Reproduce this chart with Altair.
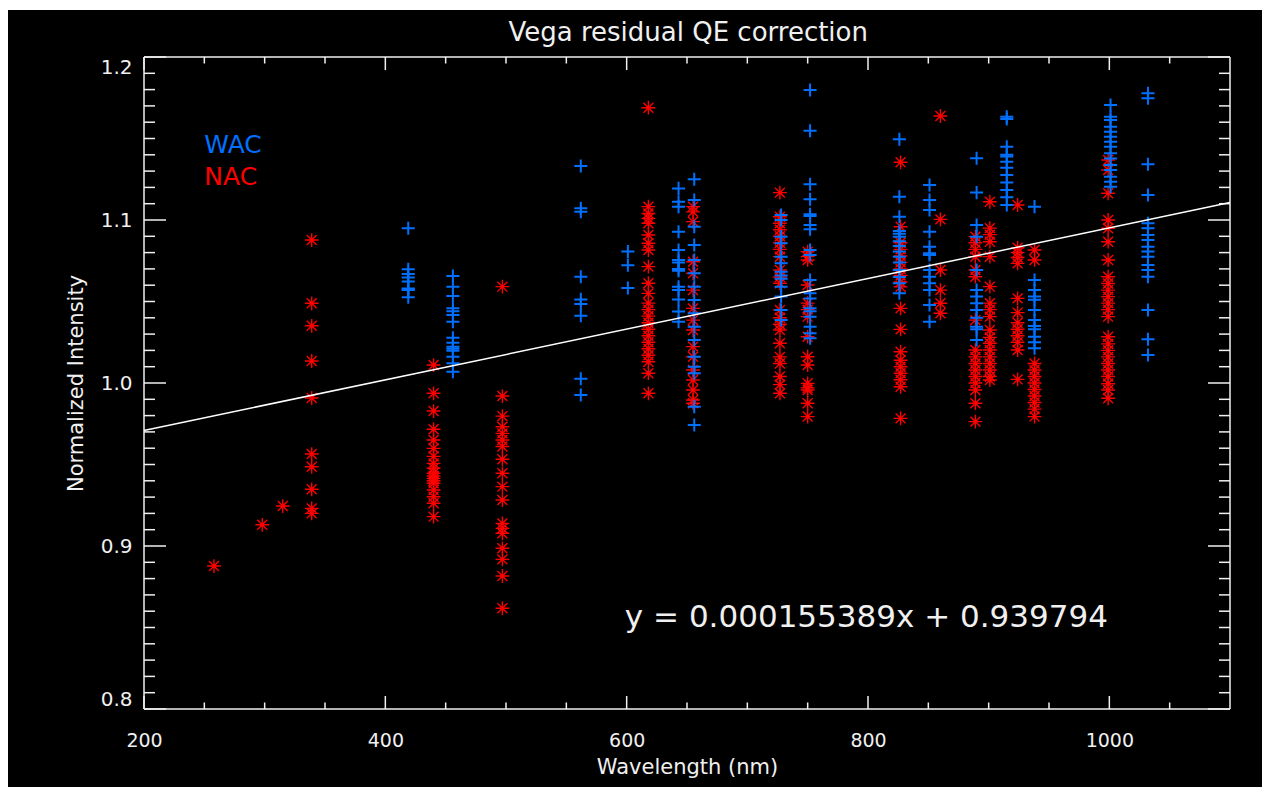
import altair as alt
import pandas as pd

# ---------------- data ----------------
WAC_WAVELENGTHS = [419, 456, 562, 601, 643, 656, 728, 752, 826, 851, 890, 915, 938, 1001, 1032]
WAC_VALUES = [
    [1.0949, 1.0698, 1.0669, 1.0648, 1.0622, 1.0580, 1.0575, 1.0570, 1.0526],
    [1.0656, 1.0591, 1.0534, 1.0458, 1.0440, 1.0417, 1.0376, 1.0278, 1.0247, 1.0223, 1.0210, 1.0198, 1.0161, 1.0121, 1.0069],
    [1.1331, 1.1072, 1.1051, 1.0652, 1.0513, 1.0485, 1.0413, 1.0026, 0.9926],
    [1.0806, 1.0722, 1.0583],
    [1.1194, 1.1112, 1.1082, 1.0928, 1.0816, 1.0755, 1.0740, 1.0700, 1.0689, 1.0591, 1.0570, 1.0513, 1.0438, 1.0376],
    [1.1250, 1.1123, 1.0959, 1.0847, 1.0755, 1.0673, 1.0591, 1.0509, 1.0428, 1.0345, 1.0264, 1.0161, 1.0100, 1.0060, 0.9855, 0.9742],
    [1.1031, 1.1000, 1.0898, 1.0857, 1.0775, 1.0734, 1.0683, 1.0660, 1.0640, 1.0591, 1.0530, 1.0448, 1.0386],
    [1.1798, 1.1548, 1.1219, 1.1127, 1.1035, 1.1025, 1.0969, 1.0943, 1.0816, 1.0785, 1.0632, 1.0550, 1.0519, 1.0458, 1.0440, 1.0407, 1.0345, 1.0305, 1.0274],
    [1.1495, 1.1143, 1.1020, 1.0932, 1.0915, 1.0898, 1.0870, 1.0840, 1.0806, 1.0775, 1.0740, 1.0693, 1.0650, 1.0612, 1.0550],
    [1.1215, 1.1123, 1.1061, 1.0928, 1.0836, 1.0796, 1.0785, 1.0693, 1.0652, 1.0612, 1.0570, 1.0479, 1.0376],
    [1.1379, 1.1168, 1.0969, 1.0898, 1.0693, 1.0570, 1.0530, 1.0489, 1.0448, 1.0400, 1.0345, 1.0330, 1.0264],
    [1.1634, 1.1620, 1.1450, 1.1400, 1.1390, 1.1358, 1.1320, 1.1276, 1.1230, 1.1184, 1.1140, 1.1092],
    [1.1082, 1.0632, 1.0570, 1.0530, 1.0510, 1.0448, 1.0386, 1.0350, 1.0330, 1.0284, 1.0250, 1.0213],
    [1.1706, 1.1634, 1.1613, 1.1572, 1.1542, 1.1511, 1.1480, 1.1450, 1.1409, 1.1378, 1.1337, 1.1307, 1.1266, 1.1235, 1.1204],
    [1.1777, 1.1747, 1.1342, 1.1153, 1.0980, 1.0949, 1.0908, 1.0877, 1.0836, 1.0806, 1.0775, 1.0724, 1.0693, 1.0652, 1.0448, 1.0268, 1.0172],
]

NAC_WAVELENGTHS = [258, 298, 315, 339, 440, 497, 618, 655, 727, 750, 827, 860, 889, 901, 924, 938, 999]
NAC_VALUES = [
    [0.8877],
    [0.9130],
    [0.9245],
    [1.0877, 1.0489, 1.0351, 1.0135, 0.9908, 0.9564, 0.9486, 0.9348, 0.9231, 0.9200],
    [1.0110, 0.9937, 0.9828, 0.9716, 0.9650, 0.9599, 0.9550, 0.9507, 0.9477, 0.9446, 0.9430, 0.9415, 0.9400, 0.9385, 0.9344, 0.9302, 0.9262, 0.9180],
    [1.0591, 0.9920, 0.9797, 0.9732, 0.9691, 0.9650, 0.9610, 0.9532, 0.9446, 0.9364, 0.9282, 0.9139, 0.9108, 0.9078, 0.8986, 0.8918, 0.8816, 0.8618],
    [1.1689, 1.1082, 1.1040, 1.1010, 1.0980, 1.0908, 1.0857, 1.0816, 1.0714, 1.0612, 1.0550, 1.0490, 1.0450, 1.0410, 1.0370, 1.0330, 1.0290, 1.0250, 1.0210, 1.0170, 1.0130, 1.0060, 0.9937],
    [1.1082, 1.1050, 1.0990, 1.0744, 1.0673, 1.0570, 1.0458, 1.0386, 1.0325, 1.0223, 1.0161, 1.0080, 1.0018, 0.9957, 0.9896, 0.9876],
    [1.1168, 1.1020, 1.0980, 1.0940, 1.0900, 1.0860, 1.0820, 1.0775, 1.0693, 1.0650, 1.0612, 1.0448, 1.0400, 1.0360, 1.0325, 1.0244, 1.0160, 1.0120, 1.0040, 0.9990, 0.9937],
    [1.0806, 1.0775, 1.0755, 1.0601, 1.0490, 1.0450, 1.0407, 1.0284, 1.0161, 1.0110, 0.9998, 0.9970, 0.9957, 0.9876, 0.9794],
    [1.1354, 1.0959, 1.0860, 1.0820, 1.0780, 1.0740, 1.0700, 1.0660, 1.0620, 1.0590, 1.0458, 1.0329, 1.0192, 1.0140, 1.0100, 1.0060, 1.0020, 0.9977, 0.9783],
    [1.1638, 1.1004, 1.0693, 1.0570, 1.0489, 1.0428],
    [1.0898, 1.0860, 1.0820, 1.0775, 1.0693, 1.0652, 1.0386, 1.0202, 1.0160, 1.0120, 1.0080, 1.0040, 1.0000, 0.9957, 0.9876, 0.9763],
    [1.1112, 1.0950, 1.0910, 1.0867, 1.0775, 1.0591, 1.0490, 1.0450, 1.0407, 1.0325, 1.0280, 1.0244, 1.0202, 1.0160, 1.0120, 1.0080, 1.0040, 1.0018],
    [1.1092, 1.0830, 1.0800, 1.0770, 1.0734, 1.0519, 1.0432, 1.0370, 1.0330, 1.0290, 1.0250, 1.0202, 1.0022],
    [1.0816, 1.0755, 1.0120, 1.0080, 1.0040, 1.0000, 0.9960, 0.9920, 0.9880, 0.9840, 0.9794],
    [1.1368, 1.1307, 1.1164, 1.1000, 1.0949, 1.0867, 1.0755, 1.0652, 1.0610, 1.0570, 1.0530, 1.0490, 1.0450, 1.0407, 1.0284, 1.0240, 1.0200, 1.0160, 1.0120, 1.0080, 1.0040, 0.9995, 0.9957, 0.9906],
]

FIT_SLOPE = 0.000155389
FIT_INTERCEPT = 0.939794
FIT_RANGE = [200, 1100]
EQUATION = "y = 0.000155389x + 0.939794"

X_DOMAIN = [200, 1100]
Y_DOMAIN = [0.8, 1.2]
X_MAJOR = [200, 400, 600, 800, 1000]
X_MINOR = [250, 300, 350, 450, 500, 550, 650, 700, 750, 850, 900, 950, 1050]
Y_MAJOR = [0.8, 0.9, 1.0, 1.1, 1.2]
Y_MINOR = [round(0.8 + 0.01 * i, 2) for i in range(1, 40) if i % 10 != 0]

# ---------------- style ----------------
W, H = 1086, 652
FONT = "DejaVu Sans"
WHITE = "#f0f0f0"
BLUE = "#0070ff"
RED = "#ff0000"
ASTERISK = "M-1,0L1,0M0,-1L0,1M-0.72,-0.72L0.72,0.72M-0.72,0.72L0.72,-0.72"
PLUS = "M-1,0L1,0M0,-1L0,1"

wac_rows = [{"wl": w, "val": v} for w, vals in zip(WAC_WAVELENGTHS, WAC_VALUES) for v in vals]
nac_rows = [{"wl": w, "val": v} for w, vals in zip(NAC_WAVELENGTHS, NAC_VALUES) for v in vals]
wac_df = pd.DataFrame(wac_rows)
nac_df = pd.DataFrame(nac_rows)
fit_df = pd.DataFrame({"wl": FIT_RANGE, "val": [FIT_SLOPE * x + FIT_INTERCEPT for x in FIT_RANGE]})

xs = alt.Scale(domain=X_DOMAIN, nice=False, zero=False)
ys = alt.Scale(domain=Y_DOMAIN, nice=False, zero=False)

x_axis = alt.Axis(values=X_MAJOR, format="d", labelColor=WHITE, labelFontSize=19, labelFont=FONT,
                  domain=False, ticks=False, grid=False, labelPadding=22, labelFlush=False,
                  title="Wavelength (nm)", titleColor=WHITE, titleFontSize=21, titleFont=FONT,
                  titleFontWeight="normal", titlePadding=6, zindex=2)
y_axis = alt.Axis(values=Y_MAJOR, format=".1f", labelColor=WHITE, labelFontSize=20, labelFont=FONT,
                  domain=False, ticks=False, grid=False, labelPadding=12, labelFlush=True,
                  title="Normalized Intensity", titleColor=WHITE, titleFontSize=21, titleFont=FONT,
                  titleFontWeight="normal", titlePadding=14, zindex=2)

one = pd.DataFrame({"a": [0]})
background = alt.Chart(one).mark_rect(color="black").encode(
    x=alt.value(-136), x2=alt.value(W + 32), y=alt.value(-47), y2=alt.value(H + 78))

frame_df = pd.DataFrame({
    "x": [X_DOMAIN[0], X_DOMAIN[0], X_DOMAIN[0], X_DOMAIN[1]],
    "x2": [X_DOMAIN[1], X_DOMAIN[1], X_DOMAIN[0], X_DOMAIN[1]],
    "y": [Y_DOMAIN[0], Y_DOMAIN[1], Y_DOMAIN[0], Y_DOMAIN[0]],
    "y2": [Y_DOMAIN[0], Y_DOMAIN[1], Y_DOMAIN[1], Y_DOMAIN[1]],
})
frame = alt.Chart(frame_df).mark_rule(color=WHITE, strokeWidth=1.5).encode(
    x=alt.X("x:Q", scale=xs, axis=x_axis), x2="x2:Q",
    y=alt.Y("y:Q", scale=ys, axis=y_axis), y2="y2:Q")


def xticks(values, length):
    d = pd.DataFrame({"t": values})
    bot = alt.Chart(d).mark_rule(color=WHITE, strokeWidth=1.5).encode(
        x=alt.X("t:Q", scale=xs), y=alt.value(H), y2=alt.value(H - length))
    top = alt.Chart(d).mark_rule(color=WHITE, strokeWidth=1.5).encode(
        x=alt.X("t:Q", scale=xs), y=alt.value(0), y2=alt.value(length))
    return [bot, top]


def yticks(values, length):
    d = pd.DataFrame({"t": values})
    left = alt.Chart(d).mark_rule(color=WHITE, strokeWidth=1.5).encode(
        y=alt.Y("t:Q", scale=ys), x=alt.value(0), x2=alt.value(length))
    right = alt.Chart(d).mark_rule(color=WHITE, strokeWidth=1.5).encode(
        y=alt.Y("t:Q", scale=ys), x=alt.value(W), x2=alt.value(W - length))
    return [left, right]


tick_layers = xticks(X_MAJOR, 13) + xticks(X_MINOR, 6.5) + yticks(Y_MAJOR, 22) + yticks(Y_MINOR, 11)

nac = alt.Chart(nac_df).mark_point(shape=ASTERISK, size=190, filled=False, strokeWidth=1.4,
                                   color=RED, opacity=1).encode(
    x=alt.X("wl:Q", scale=xs), y=alt.Y("val:Q", scale=ys))
wac = alt.Chart(wac_df).mark_point(shape=PLUS, size=170, filled=False, strokeWidth=2,
                                   color=BLUE, opacity=1).encode(
    x=alt.X("wl:Q", scale=xs), y=alt.Y("val:Q", scale=ys))
fit = alt.Chart(fit_df).mark_line(color="white", strokeWidth=1.5).encode(
    x=alt.X("wl:Q", scale=xs), y=alt.Y("val:Q", scale=ys))

# text labels placed in data coordinates
labels_df = pd.DataFrame({
    "wl": [250.0, 250.0, 598.5, 651.0],
    "val": [1.146, 1.1264, 0.8558, 1.2147],
    "txt": ["WAC", "NAC", EQUATION, "Vega residual QE correction"],
    "kind": ["wac", "nac", "eq", "title"],
})
wac_txt = alt.Chart(labels_df).transform_filter("datum.kind == 'wac'").mark_text(
    align="left", baseline="middle", fontSize=25, font=FONT, color=BLUE).encode(
    x=alt.X("wl:Q", scale=xs), y=alt.Y("val:Q", scale=ys), text="txt:N")
nac_txt = alt.Chart(labels_df).transform_filter("datum.kind == 'nac'").mark_text(
    align="left", baseline="middle", fontSize=25, font=FONT, color=RED).encode(
    x=alt.X("wl:Q", scale=xs), y=alt.Y("val:Q", scale=ys), text="txt:N")
eq_txt = alt.Chart(labels_df).transform_filter("datum.kind == 'eq'").mark_text(
    align="left", baseline="middle", fontSize=31, font=FONT, color=WHITE).encode(
    x=alt.X("wl:Q", scale=xs), y=alt.Y("val:Q", scale=ys), text="txt:N")
title_txt = alt.Chart(labels_df).transform_filter("datum.kind == 'title'").mark_text(
    align="center", baseline="middle", fontSize=26, font=FONT, color=WHITE).encode(
    x=alt.X("wl:Q", scale=xs), y=alt.Y("val:Q", scale=ys), text="txt:N")

chart = alt.layer(
    background, frame, *tick_layers, nac, wac, fit, wac_txt, nac_txt, eq_txt, title_txt
).properties(
    width=W, height=H, background="white",
    padding={"left": 8, "top": 10, "right": 6, "bottom": 7},
).configure_view(stroke=None)

chart.save("out.html", embed_options={"renderer": "svg", "actions": False})
